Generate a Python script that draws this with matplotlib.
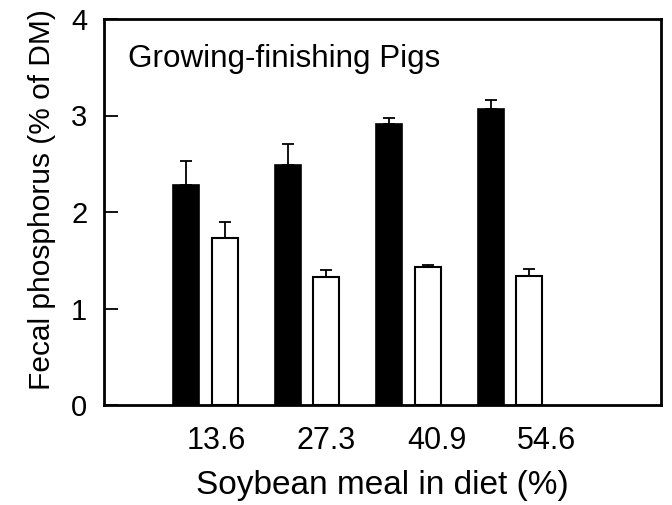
import matplotlib
matplotlib.use("Agg")
import matplotlib.pyplot as plt
import numpy as np

plt.rcParams['font.family'] = ['Liberation Sans', 'DejaVu Sans']

categories = ["13.6", "27.3", "40.9", "54.6"]
black_vals = [2.28, 2.49, 2.91, 3.07]
black_err = [0.25, 0.21, 0.06, 0.09]
white_vals = [1.73, 1.33, 1.43, 1.34]
white_err = [0.17, 0.07, 0.02, 0.07]

fig = plt.figure(figsize=(6.72, 5.05), dpi=100)
ax = fig.add_axes([104/672, 1-405/505, (661-104)/672, (405-19)/505])

x = np.arange(len(categories))
off = 0.19
w = 0.256
ax.bar(x - off, black_vals, w, color='black', edgecolor='black', linewidth=1.2, zorder=2)
ax.bar(x + off, white_vals, w, color='white', edgecolor='black', linewidth=1.5, zorder=2)
ax.errorbar(x - off, black_vals, yerr=[np.zeros(4), black_err], fmt='none',
            ecolor='black', elinewidth=1.3, capsize=4, capthick=1.3, zorder=1)
ax.errorbar(x + off, white_vals, yerr=[np.zeros(4), white_err], fmt='none',
            ecolor='black', elinewidth=1.3, capsize=4, capthick=1.3, zorder=1)

ax.set_xlim(-1.0, 4.485)
ax.set_ylim(0, 4)
ax.set_yticks([0, 1, 2, 3, 4])
ax.set_yticklabels(['0', '1', '2', '3', '4'], fontsize=21)
# tick labels in the reference are spread slightly wider than the bar groups
ax.set_xticks(0.106 + 1.085 * x)
ax.set_xticklabels(categories, fontsize=22)
ax.tick_params(axis='y', direction='in', length=10, width=1.3, pad=12)
ax.tick_params(axis='x', length=0, pad=15)
for s in ax.spines.values():
    s.set_linewidth(2)

ax.set_xlabel("Soybean meal in diet (%)", fontsize=24, labelpad=10)
ax.set_ylabel("Fecal phosphorus (% of DM)", fontsize=21.5, va='center')
ax.yaxis.set_label_coords(-0.111, 0.531)
ax.text(0.043, 0.935, "Growing-finishing Pigs", transform=ax.transAxes,
        fontsize=22.6, va='top', ha='left')

fig.savefig("out.png", dpi=100)
